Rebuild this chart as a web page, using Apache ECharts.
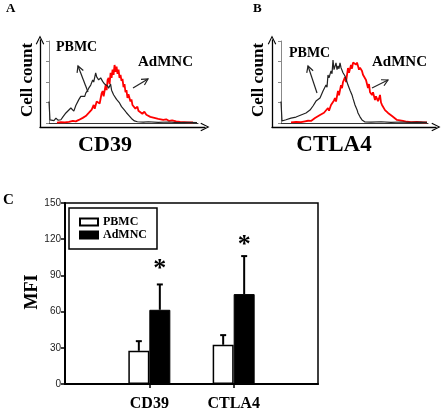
<!DOCTYPE html>
<html><head><meta charset="utf-8">
<script src="https://cdn.jsdelivr.net/npm/echarts@6/dist/echarts.min.js"></script>
<style>html,body{margin:0;padding:0;background:#fff;}#c{width:442px;height:413px;}</style>
</head><body><div id="c"></div>
<script>
// ---- Panel A / B histograms: [channel, cell count] ----
const cd39Pbmc = [[0,1.05],[1,0.15],[3,0.18],[5,0.12],[7,0.24],[9,0.14],[12,0.16],[14,0.3],[17,0.49],[19,0.4],[22,0.73],[25,0.58],[27,0.85],[30,1.14],[32,1.3],[34,1.38],[36,1.3],[37,1.46],[39,1.6],[40,1.7],[42,1.85],[44,2.1],[45,2.0],[47,2.44],[48,2.25],[50,2.1],[52,2.2],[54,2.03],[56,1.9],[57,1.95],[59,1.8],[60,1.7],[62,1.9],[63,1.6],[65,1.38],[66,1.32],[68,1.15],[71,0.98],[73,0.8],[76,0.63],[78,0.5],[81,0.34],[83,0.22],[86,0.1],[89,0.06],[95,0.04],[100,0.06],[110,0.03],[120,0.05],[130,0.02],[140,0.03],[149,0.02]];
const cd39Admnc = [[8,0.02],[12,0.04],[16,0.03],[20,0.06],[24,0.1],[27,0.08],[30,0.15],[32,0.12],[34,0.25],[36,0.2],[37,0.34],[39,0.3],[40,0.49],[42,0.4],[43,0.65],[45,0.88],[46,0.7],[48,1.05],[50,1.12],[51,0.95],[53,1.45],[54,1.56],[55,1.3],[57,1.85],[58,1.6],[59,2.1],[60,2.2],[61,1.9],[62,2.45],[63,2.2],[64,2.6],[65,2.35],[66,2.83],[67,2.5],[68,2.75],[69,2.4],[70,2.6],[71,2.2],[72,2.35],[73,2.05],[74,2.15],[75,1.75],[76,1.9],[77,1.5],[78,1.6],[79,1.22],[80,1.4],[82,1.05],[83,1.15],[84,0.88],[86,0.95],[87,0.7],[89,0.8],[90,0.6],[92,0.65],[94,0.45],[96,0.55],[98,0.4],[100,0.45],[102,0.3],[104,0.38],[106,0.25],[108,0.3],[110,0.2],[112,0.25],[115,0.15],[118,0.18],[121,0.1],[124,0.13],[128,0.08],[132,0.05],[136,0.04],[140,0.03],[145,0.03]];
const ctla4Pbmc = [[0,1.05],[1,0.1],[3,0.14],[5,0.16],[7,0.12],[10,0.24],[12,0.2],[15,0.29],[17,0.25],[20,0.39],[22,0.35],[25,0.49],[27,0.45],[29,0.63],[31,0.6],[32,0.83],[34,0.9],[35,1.07],[37,1.0],[39,1.22],[41,1.3],[42,1.56],[44,1.5],[45,1.85],[46,1.75],[47,2.34],[48,2.2],[50,2.54],[51,2.4],[52,3.07],[53,2.6],[54,2.68],[55,2.93],[56,2.6],[57,2.78],[58,2.65],[59,2.93],[60,2.7],[61,2.68],[62,2.45],[64,2.29],[66,2.0],[67,1.85],[69,1.6],[71,1.37],[72,1.2],[74,0.88],[76,0.65],[77,0.49],[79,0.3],[81,0.15],[84,0.05],[90,0.04],[100,0.06],[110,0.03],[120,0.05],[130,0.03],[140,0.04],[146,0.03]];
const ctla4Admnc = [[10,0.03],[15,0.05],[20,0.04],[24,0.08],[27,0.11],[30,0.1],[34,0.24],[36,0.2],[39,0.39],[41,0.3],[43,0.5],[45,0.45],[47,0.73],[48,0.6],[50,0.88],[51,0.8],[53,1.1],[54,1.22],[55,1.05],[57,1.56],[58,1.35],[60,1.85],[61,1.7],[62,2.0],[64,2.24],[65,2.0],[67,2.68],[68,2.45],[70,2.83],[71,2.65],[72,2.95],[74,3.02],[75,2.85],[76,2.95],[77,2.78],[78,2.6],[79,2.7],[81,2.54],[82,2.35],[84,2.34],[85,2.1],[86,2.05],[87,1.71],[88,1.9],[89,1.5],[91,1.37],[92,1.5],[94,1.12],[95,1.3],[97,1.07],[98,1.2],[99,1.37],[100,1.0],[101,0.88],[102,0.95],[104,0.63],[105,0.7],[107,0.49],[109,0.45],[111,0.34],[113,0.3],[116,0.15],[118,0.2],[122,0.1],[126,0.06],[130,0.04],[136,0.05],[142,0.03],[146,0.03]];

// ---- Panel C: MFI bar chart ----
const categories = ['CD39', 'CTLA4'];
const groups = ['PBMC', 'AdMNC'];
const pbmcMean = [27.5, 32.5];
const pbmcSD = [8, 8];
const admncMean = [61.5, 74.5];
const admncSD = [21, 31.5];
const sigLevel = [95, 115];   // where the "*" markers sit (MFI units)
const mfiMax = 150, mfiStep = 30;

const SERIF = '"Liberation Serif", "DejaVu Serif", serif';
const chevron = 'path://M0,10 L5,0 L10,10 L8.8,10.6 L5,2.6 L1.2,10.6 Z';

const xCats = [''].concat(categories, ['']);
const pad = arr => [null].concat(arr, [null]);

function hideAxis(extra){
  return Object.assign({axisTick:{show:false}, axisLabel:{show:false}, splitLine:{show:false}}, extra);
}
function innerX(g, max){ return hideAxis({gridIndex:g, type:'value', min:0, max:max, axisLine:{show:true, onZero:false, lineStyle:{color:'#333', width:1}}}); }
function innerY(g){ return {gridIndex:g, type:'value', min:0, max:4, interval:1, axisLine:{show:true, lineStyle:{color:'#888', width:1}}, axisTick:{show:true, length:3, lineStyle:{color:'#888'}}, axisLabel:{show:false}, splitLine:{show:false}}; }
function outerAxis(g){ return hideAxis({gridIndex:g, type:'value', min:0, max:1, axisLine:{show:true, onZero:false, symbol:['none', chevron], symbolSize:[9,9], lineStyle:{color:'#000', width:1.3}}}); }

function hist(name, data, xi, color, w, z){
  return {type:'line', name:name, xAxisIndex:xi, yAxisIndex:xi, data:data, showSymbol:false, symbol:'none', z:z,
          lineStyle:{color:color, width:w}, silent:true};
}

function errSeries(name, mean, sd, side){
  return {type:'custom', name:name+' SD', xAxisIndex:4, yAxisIndex:4, z:5,
    data: categories.map((c,i)=>[i+1, mean[i], sd[i]]),
    renderItem(params, api){
      const x = api.value(0), m = api.value(1), s = api.value(2);
      const b = api.coord([x, m]), t = api.coord([x, m+s]);
      const cx = b[0] + side*10.5;
      return {type:'group', children:[
        {type:'line', shape:{x1:cx, y1:b[1], x2:cx, y2:t[1]}, style:{stroke:'#000', lineWidth:2}},
        {type:'line', shape:{x1:cx-3, y1:t[1], x2:cx+3, y2:t[1]}, style:{stroke:'#000', lineWidth:2}}
      ]};
    }};
}

function arrowEls(bx, by, tx, ty){
  const a = Math.atan2(ty-by, tx-bx), L = 7, s = 0.5;
  return [
    {type:'polyline', silent:true, shape:{points:[[tx - L*Math.cos(a-s), ty - L*Math.sin(a-s)], [tx, ty], [tx - L*Math.cos(a+s), ty - L*Math.sin(a+s)]]}, style:{stroke:'#222', lineWidth:1.2, fill:null}},
    {type:'line', silent:true, shape:{x1:bx, y1:by, x2:tx, y2:ty}, style:{stroke:'#222', lineWidth:1.2}}
  ];
}
function txt(t, x, y, size){
  return {type:'text', x:x, y:y, silent:true,
    style:{text:t, font:'bold '+size+'px '+SERIF, fill:'#000', align:'left', verticalAlign:'middle'}};
}
function ctxt(t, x, y, size, rot){
  return {type:'text', x:x, y:y, rotation:rot||0, silent:true,
    style:{text:t, font:'bold '+size+'px '+SERIF, fill:'#000', align:'center', verticalAlign:'middle'}};
}

const chart = echarts.init(document.getElementById('c'), null, {renderer:'canvas'});
chart.setOption({
  animation:false,
  backgroundColor:'#fff',
  grid:[
    {left:49, top:41, width:149, height:82},
    {left:40, top:40, width:165, height:87},
    {left:281, top:41, width:147, height:82},
    {left:272, top:40, width:164, height:87},
    {left:65, top:203, width:253, height:181, show:true, borderColor:'#000', borderWidth:1.5, backgroundColor:'transparent'}
  ],
  xAxis:[
    innerX(0, 150), outerAxis(1), innerX(2, 147), outerAxis(3),
    {gridIndex:4, type:'category', data:xCats, boundaryGap:false,
     axisLine:{show:true, onZero:false, lineStyle:{color:'#000', width:2}},
     axisTick:{show:true, length:4, interval:(i)=>i===1||i===2, lineStyle:{color:'#000', width:1.5}},
     axisLabel:{interval:0, margin:12, fontFamily:SERIF, fontWeight:'bold', fontSize:16, color:'#000'},
     splitLine:{show:false}}
  ],
  yAxis:[
    innerY(0), outerAxis(1), innerY(2), outerAxis(3),
    {gridIndex:4, type:'value', min:0, max:mfiMax, interval:mfiStep,
     axisLine:{show:true, lineStyle:{color:'#000', width:2}},
     axisTick:{show:true, length:4, lineStyle:{color:'#000', width:1.5}},
     axisLabel:{fontFamily:'"Liberation Sans", Arial, sans-serif', fontSize:10, color:'#222', margin:4},
     splitLine:{show:false}}
  ],
  legend:{data:groups, orient:'vertical', left:69, top:208, padding:[8,10,8,10], itemGap:1,
    itemWidth:18, itemHeight:7, borderColor:'#000', borderWidth:1.5, icon:'rect', selectedMode:false,
    textStyle:{fontFamily:SERIF, fontWeight:'bold', fontSize:12, color:'#000'}},
  series:[
    hist('CD39 AdMNC hist', cd39Admnc, 0, '#ff0000', 1.8, 2),
    hist('CD39 PBMC hist', cd39Pbmc, 0, '#222', 1.2, 3),
    hist('CTLA4 AdMNC hist', ctla4Admnc, 2, '#ff0000', 1.8, 2),
    hist('CTLA4 PBMC hist', ctla4Pbmc, 2, '#222', 1.2, 3),
    {type:'bar', name:groups[0], xAxisIndex:4, yAxisIndex:4, data:pad(pbmcMean), barWidth:21, barGap:'0%',
     itemStyle:{color:'#fff', borderColor:'#000', borderWidth:1.5}},
    {type:'bar', name:groups[1], xAxisIndex:4, yAxisIndex:4, data:pad(admncMean), barWidth:21, barGap:'0%',
     itemStyle:{color:'#000', borderColor:'#000', borderWidth:1}},
    errSeries('PBMC', pbmcMean, pbmcSD, -1),
    errSeries('AdMNC', admncMean, admncSD, 1),
    {type:'custom', name:'sig', xAxisIndex:4, yAxisIndex:4, z:6,
     data: categories.map((c,i)=>[i+1, sigLevel[i]]),
     renderItem(params, api){
       const p = api.coord([api.value(0), api.value(1)]);
       return {type:'text', x:p[0]+10.5, y:p[1], style:{text:'*', font:'bold 26px '+SERIF, fill:'#000', align:'center', verticalAlign:'middle'}};
     }}
  ],
  graphic:[
    txt('A', 6, 9, 13), txt('B', 253, 9, 13), txt('C', 3, 200, 15),
    ctxt('Cell count', 28, 80, 17, Math.PI/2),
    ctxt('Cell count', 259, 80, 17, Math.PI/2),
    ctxt('CD39', 105, 145, 22),
    ctxt('CTLA4', 334, 145, 23),
    ctxt('MFI', 32, 292, 18, Math.PI/2),
    txt('PBMC', 56, 47, 14), txt('AdMNC', 138, 62, 15),
    txt('PBMC', 289, 53, 14), txt('AdMNC', 372, 62, 15)
  ].concat(arrowEls(88,92,78,66), arrowEls(133,88,148,79), arrowEls(317,93,308,66), arrowEls(372,88,388,80))
});
</script></body></html>
